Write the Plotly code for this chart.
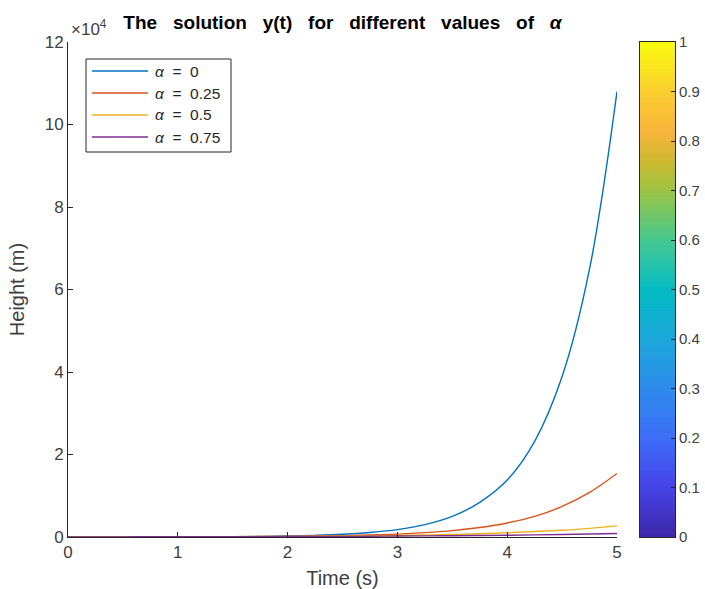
import numpy as np
import plotly.graph_objects as go

t = [0, 0.25, 0.5, 0.75, 1, 1.25, 1.5, 1.75, 2, 2.25, 2.5, 2.75, 3, 3.25, 3.5, 3.75, 4, 4.25, 4.5, 4.75, 5]
y_a0 = [5, 9, 14, 23, 37, 60, 95, 155, 250, 400, 650, 1100, 1800, 3000, 5000, 8400, 13800, 23200, 38900, 65000, 108000]
y_a025 = [8, 12, 17, 24, 35, 50, 72, 105, 155, 225, 330, 480, 700, 1050, 1550, 2300, 3400, 5000, 7400, 10800, 15400]
y_a05 = [20, 26, 33, 42, 54, 69, 88, 113, 145, 185, 235, 300, 380, 490, 620, 790, 1050, 1320, 1650, 2100, 2700]
y_a075 = [30, 36, 42, 50, 59, 70, 82, 97, 115, 135, 160, 190, 225, 265, 315, 370, 440, 520, 610, 720, 850]

alphas = ["0", "0.25", "0.5", "0.75"]
series_vals = [y_a0, y_a025, y_a05, y_a075]
colors = ["#0072BD", "#D95319", "#EDB120", "#7E2F8E"]

y_ticks = [0, 20000, 40000, 60000, 80000, 100000, 120000]
y_ticktext = ["0", "2", "4", "6", "8", "10", "12"]
x_ticks = [0, 1, 2, 3, 4, 5]
cb_ticks = [0, 0.1, 0.2, 0.3, 0.4, 0.5, 0.6, 0.7, 0.8, 0.9, 1]
cb_ticktext = ["0", "0.1", "0.2", "0.3", "0.4", "0.5", "0.6", "0.7", "0.8", "0.9", "1"]

parula = [
    [0.0, "#3E26A8"], [0.1, "#4643E6"], [0.2, "#3E6DF8"], [0.3, "#2D8BEC"],
    [0.4, "#1CA7DA"], [0.5, "#03BBC3"], [0.6, "#45C891"], [0.7, "#9CC444"],
    [0.76, "#CDB92F"], [0.82, "#F8B43C"], [0.9, "#FBCE2F"], [1.0, "#F9FB0E"],
]

FONT = "Liberation Sans, Arial, sans-serif"
AX = "#262626"
TXT = "#404040"

# layout geometry (pixels)
W, H = 705, 589
L, R, T, B = 68, 30, 42, 52
PW = W - L - R
PH = H - T - B
def px(x): return (x - L) / PW
def py(y): return (H - B - y) / PH

fig = go.Figure()
for a, vals, c in zip(alphas, series_vals, colors):
    fig.add_trace(go.Scatter(x=t, y=vals, mode="lines", name="α = " + a, showlegend=False,
                             line=dict(color=c, width=1.4, shape="spline"),
                             xaxis="x", yaxis="y"))

# colorbar drawn as a heatmap strip
cb_y = np.linspace(0, 1, 201)
fig.add_trace(go.Heatmap(x=[0], y=cb_y, z=[[v] for v in cb_y], colorscale=parula,
                         zmin=0, zmax=1, showscale=False, hoverinfo="skip",
                         zsmooth="best", xaxis="x2", yaxis="y2"))

shapes = []
annotations = []
# legend box
shapes.append(dict(type="rect", xref="paper", yref="paper", x0=px(86), x1=px(231),
                   y0=py(152), y1=py(59), line=dict(color=AX, width=1), fillcolor="white",
                   layer="above"))
for i, (a, c) in enumerate(zip(alphas, colors)):
    yc = 71 + i * 22
    shapes.append(dict(type="line", xref="paper", yref="paper", x0=px(92), x1=px(148),
                       y0=py(yc), y1=py(yc), line=dict(color=c, width=1.4), layer="above"))
    annotations.append(dict(text="<i>α</i>\u00a0\u00a0=\u00a0\u00a0" + a, xref="paper", yref="paper",
                            x=px(153), y=py(yc), xanchor="left", yanchor="middle",
                            showarrow=False, font=dict(family=FONT, size=15.5, color=AX)))

annotations.append(dict(text="×10<sup>4</sup>", xref="paper", yref="paper", x=px(69), y=py(28),
                        xanchor="left", yanchor="middle", showarrow=False,
                        font=dict(family=FONT, size=17, color=TXT)))

sp = "\u00a0\u00a0\u00a0"
title_txt = "<b>The" + sp + "solution" + sp + "y(t)" + sp + "for" + sp + "different" + sp + "values" + sp + "of" + sp + "<i>α</i></b>"

fig.update_layout(
    width=W, height=H,
    margin=dict(l=L, r=R, t=T, b=B),
    paper_bgcolor="white", plot_bgcolor="white",
    font=dict(family=FONT, color=TXT),
    title=dict(text=title_txt, x=(68 + 617) / 2 / W, xanchor="center", y=1 - 22 / H, yanchor="middle",
               font=dict(family=FONT, size=19, color="#000000")),
    showlegend=False,
    xaxis=dict(domain=[0, px(617)], range=[0, 5], tickvals=x_ticks, showline=True, linecolor=AX, linewidth=1,
               ticks="inside", ticklen=5, tickcolor=AX, showgrid=False, zeroline=False, automargin=False,
               tickfont=dict(family=FONT, size=17, color=TXT),
               title=dict(text="Time (s)", font=dict(family=FONT, size=20, color=TXT), standoff=10)),
    yaxis=dict(range=[0, 120000], tickvals=y_ticks, ticktext=y_ticktext, showline=True,
               linecolor=AX, linewidth=1, ticks="inside", ticklen=5, tickcolor=AX,
               showgrid=False, zeroline=False, automargin=False,
               tickfont=dict(family=FONT, size=17, color=TXT),
               title=dict(text="Height (m)", font=dict(family=FONT, size=20, color=TXT), standoff=14)),
    xaxis2=dict(domain=[px(640), px(675)], anchor="y2", range=[-0.5, 0.5], showticklabels=False,
                ticks="", showgrid=False, zeroline=False, showline=True, mirror=True, automargin=False,
                linecolor=AX, linewidth=1, fixedrange=True),
    yaxis2=dict(domain=[0, 1], anchor="x2", side="right", range=[0, 1], tickvals=cb_ticks,
                ticktext=cb_ticktext, ticks="inside", ticklen=4, tickcolor=AX, automargin=False,
                showgrid=False, zeroline=False, showline=True, mirror=True, linecolor=AX,
                linewidth=1, tickfont=dict(family=FONT, size=15, color=TXT), fixedrange=True),
    shapes=shapes,
    annotations=annotations,
)

fig.write_html("out.html")
